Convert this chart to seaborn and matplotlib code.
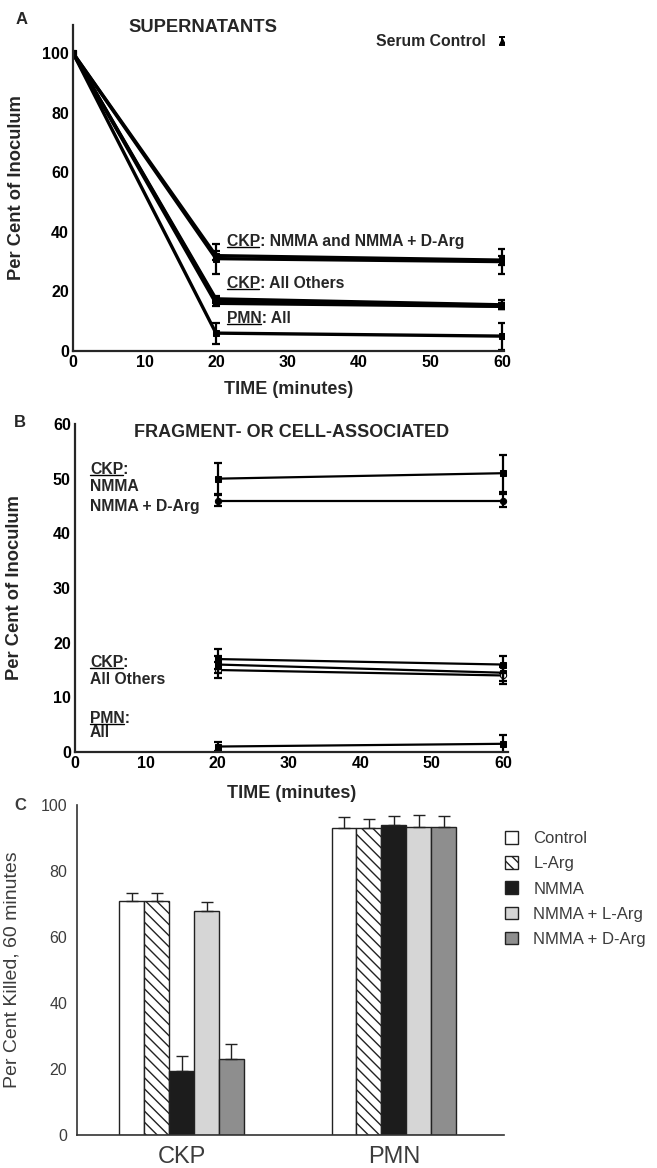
import numpy as np
import pandas as pd
import matplotlib
matplotlib.use("Agg")
import matplotlib.pyplot as plt
import seaborn as sns
from matplotlib.lines import Line2D
from matplotlib.patches import Patch
from matplotlib.ticker import MultipleLocator
from matplotlib.transforms import IdentityTransform

# ---------------- data ----------------
# Panel A: supernatants
time_a = [0, 20, 60]
a_names = ["CKP NMMA", "CKP NMMA + D-Arg", "CKP Control", "CKP L-Arg",
           "CKP NMMA + L-Arg", "PMN All"]
a_ckp_nmma = [100, 31, 30]
a_ckp_nmma_darg = [100, 32, 30.5]
a_ckp_control = [100, 17.5, 15.5]
a_ckp_larg = [100, 17, 15]
a_ckp_nmma_larg = [100, 16, 15]
a_pmn_all = [100, 6, 5]
a_err_ckp_nmma = [0, 5, 4.3]
a_err_ckp_nmma_darg = [0, 1.5, 1.5]
a_err_ckp_control = [0, 1, 1.5]
a_err_ckp_larg = [0, 1, 1]
a_err_ckp_nmma_larg = [0, 1, 1]
a_err_pmn_all = [0, 3.5, 4.5]
serum_time = [60]
serum_value = [104]
serum_err = [1.3]

# Panel B: fragment- or cell-associated
time_b = [20, 60]
b_names = ["CKP NMMA", "CKP NMMA + D-Arg", "CKP Control", "CKP L-Arg",
           "CKP NMMA + L-Arg", "PMN All"]
b_ckp_nmma = [50, 51]
b_ckp_nmma_darg = [46, 46]
b_ckp_control = [17, 16]
b_ckp_larg = [16, 14.5]
b_ckp_nmma_larg = [15, 14]
b_pmn_all = [1, 1.5]
b_err_ckp_nmma = [2.8, 3.4]
b_err_ckp_nmma_darg = [1.0, 1.2]
b_err_ckp_control = [1.8, 1.5]
b_err_ckp_larg = [1.5, 1.5]
b_err_ckp_nmma_larg = [1.5, 1.5]
b_err_pmn_all = [0.8, 1.6]

# Panel C: per cent killed at 60 minutes
cells = ["CKP", "PMN"]
treatments = ["Control", "L-Arg", "NMMA", "NMMA + L-Arg", "NMMA + D-Arg"]
killed_ckp = [71, 71, 19.5, 68, 23]
killed_pmn = [93, 93, 94, 93.3, 93.3]
err_ckp = [2.3, 2.3, 4.3, 2.6, 4.5]
err_pmn = [3.3, 2.8, 2.8, 3.8, 3.3]

# ---------------- style ----------------
sns.set_style("white")
FAM = ["Liberation Sans", "DejaVu Sans"]
plt.rcParams["font.family"] = FAM
plt.rcParams["axes.linewidth"] = 1.6

W, H = 657, 1168
fig = plt.figure(figsize=(W / 100, H / 100), dpi=100)
fig.patch.set_facecolor("white")

def px_axes(left, top, right, bottom):
    return fig.add_axes([left / W, 1 - bottom / H, (right - left) / W, (bottom - top) / H])

axA = px_axes(73, 25, 504, 351)
axB = px_axes(75, 424, 508, 752)
axC = px_axes(77, 805, 504, 1135)

underlines = []
BOLD = dict(fontweight="bold")

def label_with_underline(ax, x, y, prefix, rest, **kw):
    ax.text(x, y, prefix + rest, **kw)
    p = ax.text(x, y, prefix, alpha=0, **kw)
    underlines.append(p)

# ---------------- Panel A ----------------
a_vals = [a_ckp_nmma, a_ckp_nmma_darg, a_ckp_control, a_ckp_larg, a_ckp_nmma_larg, a_pmn_all]
a_errs = [a_err_ckp_nmma, a_err_ckp_nmma_darg, a_err_ckp_control, a_err_ckp_larg,
          a_err_ckp_nmma_larg, a_err_pmn_all]
dfA = pd.DataFrame([(n, t, v) for n, vals in zip(a_names, a_vals) for t, v in zip(time_a, vals)],
                   columns=["series", "time", "value"])
sns.lineplot(data=dfA, x="time", y="value", hue="series", hue_order=a_names,
             palette=["black"] * len(a_names), legend=False, ax=axA,
             linewidth=2.4, marker="s", markersize=4.5, markeredgecolor="black",
             estimator=None)
for vals, errs in zip(a_vals, a_errs):
    axA.errorbar(time_a[1:], vals[1:], yerr=errs[1:], fmt="none", ecolor="black",
                 elinewidth=1.6, capsize=3, capthick=1.6)
axA.errorbar(serum_time, serum_value, yerr=serum_err, fmt="^", color="black",
             markersize=3.5, elinewidth=1.4, capsize=2.5, capthick=1.4)
axA.set_xlim(0, 60.3)
axA.set_ylim(0, 109.4)
axA.xaxis.set_major_locator(MultipleLocator(10))
axA.yaxis.set_major_locator(MultipleLocator(20))
axA.yaxis.set_minor_locator(MultipleLocator(10))
axA.set_xlabel("TIME (minutes)", fontsize=13, **BOLD)
axA.set_ylabel("Per Cent of Inoculum", fontsize=13.2, **BOLD)
axA.yaxis.set_label_coords(-0.112, 0.5)
axA.xaxis.set_label_coords(0.5, -0.092)
axA.text(18.2, 108.4, "SUPERNATANTS", ha="center", va="center", fontsize=13.2, **BOLD)
axA.text(57.8, 103.7, "Serum Control", ha="right", va="center", fontsize=11.3, **BOLD)
label_with_underline(axA, 21.5, 36.6, "CKP", ": NMMA and NMMA + D-Arg", ha="left", va="center", fontsize=11.3, **BOLD)
label_with_underline(axA, 21.5, 22.8, "CKP", ": All Others", ha="left", va="center", fontsize=11.3, **BOLD)
label_with_underline(axA, 21.5, 11.0, "PMN", ": All", ha="left", va="center", fontsize=11.3, **BOLD)

# ---------------- Panel B ----------------
b_vals = [b_ckp_nmma, b_ckp_nmma_darg, b_ckp_control, b_ckp_larg, b_ckp_nmma_larg, b_pmn_all]
b_errs = [b_err_ckp_nmma, b_err_ckp_nmma_darg, b_err_ckp_control, b_err_ckp_larg,
          b_err_ckp_nmma_larg, b_err_pmn_all]
dfB = pd.DataFrame([(n, t, v) for n, vals in zip(b_names, b_vals) for t, v in zip(time_b, vals)],
                   columns=["series", "time", "value"])
sns.lineplot(data=dfB, x="time", y="value", hue="series", hue_order=b_names,
             palette=["black"] * len(b_names), legend=False, ax=axB,
             linewidth=1.6, marker="s", markersize=4.5, markeredgecolor="black",
             estimator=None)
for ln, name in zip(axB.lines, b_names):
    if name == "CKP NMMA + L-Arg":
        ln.set_marker("o")
        ln.set_markerfacecolor("white")
    elif name == "CKP NMMA + D-Arg":
        ln.set_marker("o")
for vals, errs in zip(b_vals, b_errs):
    axB.errorbar(time_b, vals, yerr=errs, fmt="none", ecolor="black",
                 elinewidth=1.6, capsize=3, capthick=1.6)
axB.set_xlim(0, 60.7)
axB.set_ylim(0, 60)
axB.xaxis.set_major_locator(MultipleLocator(10))
axB.yaxis.set_major_locator(MultipleLocator(10))
axB.set_xlabel("TIME (minutes)", fontsize=13, **BOLD)
axB.set_ylabel("Per Cent of Inoculum", fontsize=13.2, **BOLD)
axB.yaxis.set_label_coords(-0.12, 0.5)
axB.xaxis.set_label_coords(0.5, -0.10)
axB.text(30.3, 58.5, "FRAGMENT- OR CELL-ASSOCIATED", ha="center", va="center", fontsize=13, **BOLD)
label_with_underline(axB, 2.1, 51.6, "CKP", ":", ha="left", va="center", fontsize=11.3, **BOLD)
axB.text(2.1, 48.5, "NMMA", ha="left", va="center", fontsize=11.3, **BOLD)
axB.text(2.1, 45.0, "NMMA + D-Arg", ha="left", va="center", fontsize=11.3, **BOLD)
label_with_underline(axB, 2.1, 16.3, "CKP", ":", ha="left", va="center", fontsize=11.3, **BOLD)
axB.text(2.1, 13.2, "All Others", ha="left", va="center", fontsize=11.3, **BOLD)
label_with_underline(axB, 2.1, 6.2, "PMN", ":", ha="left", va="center", fontsize=11.3, **BOLD)
axB.text(2.1, 3.5, "All", ha="left", va="center", fontsize=11.3, **BOLD)

for ax in (axA, axB):
    sns.despine(ax=ax)
    ax.tick_params(axis="both", which="both", direction="in", labelsize=11.5,
                   width=1.4, colors="black", pad=3)
    ax.tick_params(which="major", length=5)
    ax.tick_params(which="minor", length=3)
    for lab in ax.get_xticklabels() + ax.get_yticklabels():
        lab.set_fontweight("bold")

# ---------------- Panel C ----------------
GREY = "#3c3c3c"
dfC = pd.DataFrame({
    "cell": [c for c in cells for _ in treatments],
    "treatment": treatments * len(cells),
    "killed": killed_ckp + killed_pmn,
})
colors = ["white", "white", "#1c1c1c", "#d6d6d6", "#8e8e8e"]
hatches = ["", "\\\\\\", "", "", ""]
sns.barplot(data=dfC, x="cell", y="killed", hue="treatment", hue_order=treatments,
            order=cells, palette=colors, width=0.588, edgecolor="#222222",
            linewidth=1.0, legend=False, ax=axC, saturation=1)
errs_by_treat = [[err_ckp[i], err_pmn[i]] for i in range(len(treatments))]
for cont, hatch, errs in zip(axC.containers, hatches, errs_by_treat):
    xs, ys = [], []
    for bar in cont:
        bar.set_hatch(hatch)
        xs.append(bar.get_x() + bar.get_width() / 2)
        ys.append(bar.get_height())
    axC.errorbar(xs, ys, yerr=[[0] * len(errs), errs], fmt="none", ecolor="#222222",
                 elinewidth=1.0, capsize=4.5, capthick=1.0)
axC.set_xlim(-0.492, 1.518)
axC.set_ylim(0, 100)
axC.yaxis.set_major_locator(MultipleLocator(20))
axC.set_xlabel("")
axC.set_ylabel("Per Cent Killed, 60 minutes", fontsize=14, color=GREY, fontweight="normal")
axC.yaxis.set_label_coords(-0.133, 0.5)
sns.despine(ax=axC)
for sp in ("left", "bottom"):
    axC.spines[sp].set_color("#333333")
    axC.spines[sp].set_linewidth(1.2)
axC.tick_params(axis="y", direction="out", length=5, width=1.0, colors="#333333",
                labelsize=11.5, labelcolor=GREY, pad=2)
axC.tick_params(axis="x", length=0, labelsize=17, labelcolor=GREY, pad=8)

handles = [Patch(facecolor=c, edgecolor="#222222", hatch=h, linewidth=1.0)
           for c, h in zip(colors, hatches)]
fig.legend(handles, treatments, loc="upper left", bbox_to_anchor=(505 / W, 1 - 831 / H),
           frameon=False, prop={"size": 12}, labelcolor=GREY,
           handlelength=0.8, handleheight=0.8, handletextpad=0.9, labelspacing=0.6,
           borderaxespad=0, borderpad=0)

# ---------------- panel letters ----------------
fig.text(22 / W, 1 - 20 / H, "A", fontsize=12, fontweight="bold", ha="center", va="center")
fig.text(20 / W, 1 - 423 / H, "B", fontsize=12, fontweight="bold", ha="center", va="center")
fig.text(20 / W, 1 - 806 / H, "C", fontsize=12, fontweight="bold", ha="center", va="center",
         color=GREY)

# ---------------- underlines ----------------
fig.canvas.draw()
renderer = fig.canvas.get_renderer()
for p in underlines:
    bb = p.get_window_extent(renderer)
    yline = bb.y0 + 0.13 * bb.height
    fig.add_artist(Line2D([bb.x0 + 0.5, bb.x1 - 0.5], [yline, yline], color="black",
                          linewidth=1.0, transform=IdentityTransform()))

fig.savefig("out.png", dpi=100, facecolor="white")
